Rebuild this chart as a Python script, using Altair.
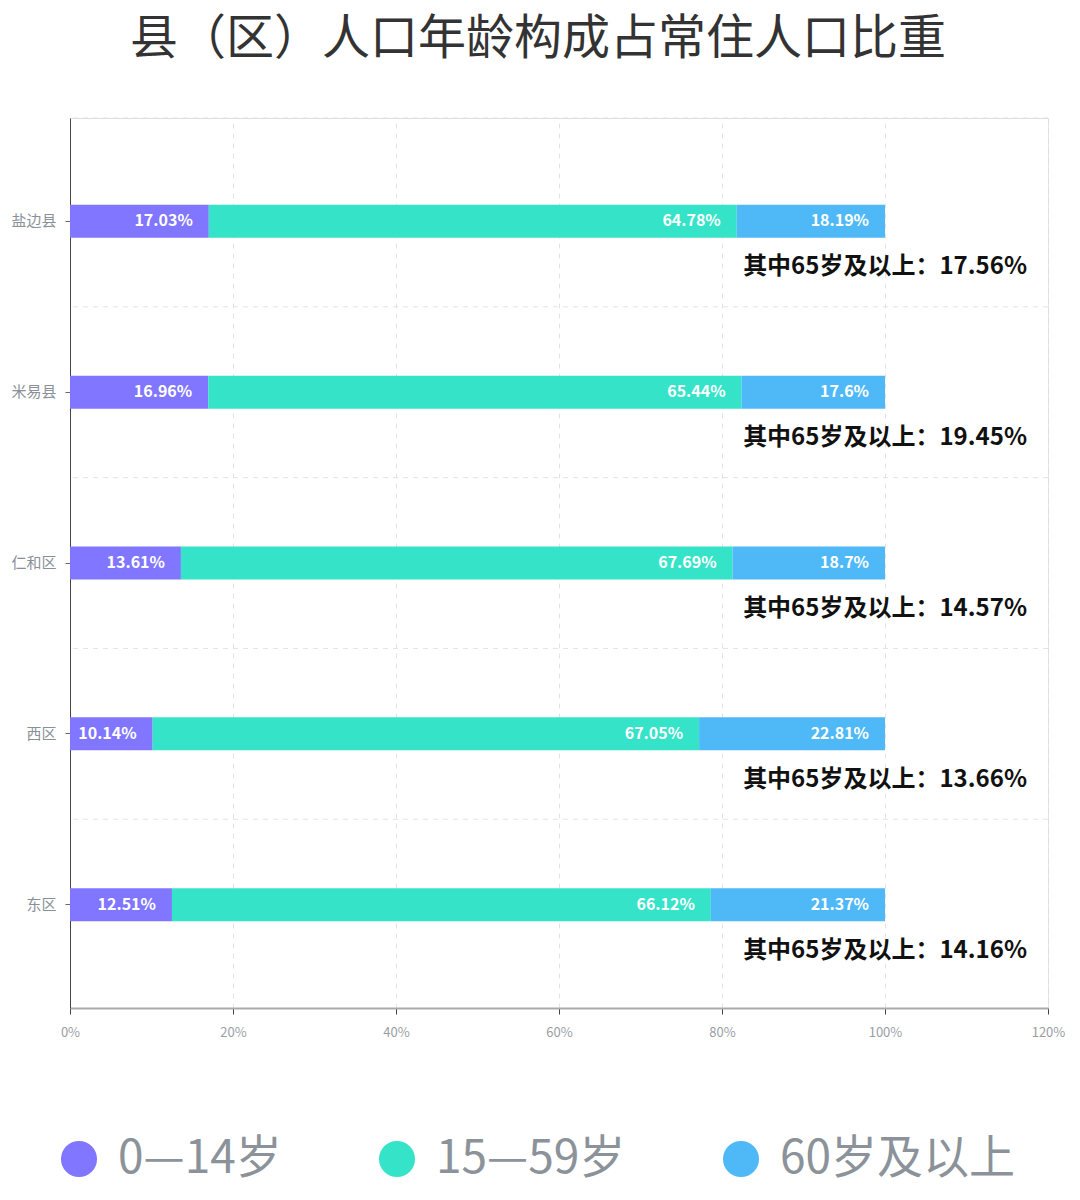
import altair as alt
import pandas as pd

counties = ["盐边县", "米易县", "仁和区", "西区", "东区"]
age_groups = ["0—14岁", "15—59岁", "60岁及以上"]
pct_0_14 = [17.03, 16.96, 13.61, 10.14, 12.51]
pct_15_59 = [64.78, 65.44, 67.69, 67.05, 66.12]
pct_60_up = [18.19, 17.6, 18.7, 22.81, 21.37]
pct_65_up = [17.56, 19.45, 14.57, 13.66, 14.16]
colors = ["#8076FF", "#35E3C8", "#4FB9F8"]

rows = []
for i, c in enumerate(counties):
    start = 0.0
    for g, vals in zip(age_groups, [pct_0_14, pct_15_59, pct_60_up]):
        v = vals[i]
        rows.append({"county": c, "group": g, "value": v, "start": start,
                     "end": start + v, "label": f"{v}%"})
        start += v
df = pd.DataFrame(rows)
ann = pd.DataFrame({"county": counties, "x": [120] * len(counties),
                    "text": [f"其中65岁及以上：{v}%" for v in pct_65_up]})

font = "Noto Sans CJK SC"
yscale = alt.Scale(domain=counties, paddingInner=0, paddingOuter=0.105)
xscale = alt.Scale(domain=[0, 120])
yaxis = alt.Axis(labelFontSize=15, labelColor="#8a9098", labelFont=font,
                 domainColor="#444", tickColor="#666", tickSize=5,
                 labelPadding=9, grid=False)

grid_h = alt.Chart(pd.DataFrame({"county": counties[1:]})).mark_rule(
    color="#e3e3e3", strokeDash=[5, 5], strokeWidth=1
).encode(y=alt.Y("county:N", scale=yscale, bandPosition=0, axis=yaxis, title=None))

top_line = alt.Chart(pd.DataFrame({"a": [0]})).mark_rule(
    color="#e3e3e3", strokeDash=[5, 5], strokeWidth=1
).encode(y=alt.value(0))

bars = alt.Chart(df).mark_bar(size=33).encode(
    y=alt.Y("county:N", scale=yscale, sort=counties, title=None, axis=yaxis),
    x=alt.X("start:Q", scale=xscale, title=None,
            axis=alt.Axis(values=[0, 20, 40, 60, 80, 100, 120], format=".0f",
                          labelExpr="datum.value + '%'", labelFontSize=13,
                          labelColor="#999ea5", labelFont=font, labelPadding=12,
                          labelFlush=False,
                          domainColor="#aaaaaa", domainWidth=2, tickColor="#444",
                          tickSize=6, grid=True, gridColor="#e3e3e3",
                          gridDash=[5, 5])),
    x2="end:Q",
    color=alt.Color("group:N", scale=alt.Scale(domain=age_groups, range=colors),
                    legend=alt.Legend(title=None, orient="none", direction="horizontal",
                                      legendX=-14, legendY=1018,
                                      symbolType="circle", symbolSize=1300,
                                      symbolStrokeWidth=0, labelFontSize=46,
                                      labelColor="#8b9299", labelFont=font,
                                      labelOffset=16, columnPadding=92,
                                      labelLimit=0, symbolOpacity=1)),
)

seg_labels = alt.Chart(df).mark_text(
    align="right", baseline="middle", dx=-16, fontSize=16, fontWeight="bold",
    color="white", font=font
).encode(y=alt.Y("county:N", scale=yscale, sort=counties, axis=yaxis, title=None),
         x=alt.X("end:Q", scale=xscale), text="label:N")

annot = alt.Chart(ann).mark_text(
    align="right", baseline="middle", dx=-21, dy=46, fontSize=24,
    fontWeight="bold", color="#111111", font=font
).encode(y=alt.Y("county:N", scale=yscale, sort=counties, axis=yaxis, title=None),
         x=alt.X("x:Q", scale=xscale), text="text:N")

chart = alt.layer(grid_h, top_line, bars, seg_labels, annot).properties(
    width=978, height=890,
    title=alt.TitleParams("县（区）人口年龄构成占常住人口比重", fontSize=48,
                          font=font, fontWeight="normal", color="#333333",
                          anchor="middle", dx=-21, offset=54),
    padding={"left": 62, "top": 110, "right": 24, "bottom": 180},
    autosize=alt.AutoSizeParams(type="none"),
).configure_view(stroke=None).configure(background="white")

chart.save("out.html", embed_options={"renderer": "svg", "actions": False})
